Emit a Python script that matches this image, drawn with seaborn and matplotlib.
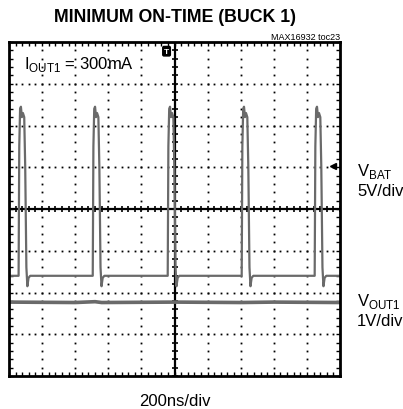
import numpy as np
import pandas as pd
import seaborn as sns
import matplotlib.pyplot as plt
from matplotlib import font_manager

# scope screen: 10 horizontal divisions x 200ns, 8 vertical divisions
time_per_div_ns = 200
n_xdiv = 10
n_ydiv = 8

# VBAT trace (vertical position in divisions from screen bottom)
pulse_starts_ns = [58, 506, 959, 1406, 1847]
pulse_shape_t_ns = [0, 4, 9, 14, 20, 26, 34, 40, 47, 53, 60, 70]
pulse_shape_div = [2.4, 5.5, 6.4, 6.45, 6.2, 6.3, 6.2, 5.0, 2.6, 2.15, 2.35, 2.4]
vbat_base_div = 2.4

# VOUT1 trace
vout_t_ns = [0, 400, 520, 560, 1000, 1400, 1600, 2000]
vout_div = [1.77, 1.76, 1.78, 1.76, 1.77, 1.76, 1.77, 1.76]

# trigger level marker on the right edge
trig_level_div = 5.03

title = "MINIMUM ON-TIME (BUCK 1)"
tag = "MAX16932 toc23"
xlabel = "200ns/div"

# build the VBAT series from the pulse template
t_pts, v_pts = [0], [vbat_base_div]
for t0 in pulse_starts_ns:
    for dt, v in zip(pulse_shape_t_ns, pulse_shape_div):
        t_pts.append(t0 + dt)
        v_pts.append(v)
t_pts.append(n_xdiv * time_per_div_ns)
v_pts.append(vbat_base_div)
vbat = pd.DataFrame({"t": t_pts, "v": v_pts})
vout = pd.DataFrame({"t": vout_t_ns, "v": vout_div})

sns.set_style("white")
names = {f.name for f in font_manager.fontManager.ttflist}
narrow = "Liberation Sans Narrow" if "Liberation Sans Narrow" in names else None
plt.rcParams["font.family"] = ["Liberation Sans", "DejaVu Sans"]
plt.rcParams["text.color"] = "black"
head_font = [narrow, "Liberation Sans"] if narrow else ["Liberation Sans"]

fig = plt.figure(figsize=(4.03, 4.10), dpi=100)
ax = fig.add_axes([9 / 403, 33 / 410, 331 / 403, 334 / 410])

xmax = n_xdiv * time_per_div_ns
ax.set_xlim(0, xmax)
ax.set_ylim(0, n_ydiv)

# dotted graticule
dot_kw = dict(ls="none", marker="s", ms=1.3, color="black", mew=0)
ys = np.arange(0, n_ydiv + 0.01, 0.2)
xs = np.arange(0, xmax + 1, time_per_div_ns / 5)
for k in range(1, n_xdiv):
    if k != n_xdiv // 2:
        ax.plot(np.full_like(ys, k * time_per_div_ns), ys, **dot_kw)
for k in range(1, n_ydiv):
    if k != n_ydiv // 2:
        ax.plot(xs, np.full_like(xs, k), **dot_kw)

# center cross with ticks
ax.axhline(n_ydiv / 2, color="black", lw=1.6)
ax.axvline(xmax / 2, color="black", lw=1.6)
ax.plot(xs, np.full_like(xs, n_ydiv / 2), ls="none", marker="|", ms=5, mew=1.2, color="black")
ax.plot(np.full_like(ys, xmax / 2), ys, ls="none", marker="_", ms=5, mew=1.2, color="black")

# traces
trace_col = "#6a6a6a"
sns.lineplot(data=vbat, x="t", y="v", ax=ax, color=trace_col, lw=1.6,
             estimator=None, sort=False)
sns.lineplot(data=vout, x="t", y="v", ax=ax, color=trace_col, lw=2.6,
             estimator=None, sort=False)

# frame with inward ticks
for s in ax.spines.values():
    s.set_visible(True)
    s.set_linewidth(2)
    s.set_color("black")
ax.set_xticks(xs)
ax.set_yticks(ys)
ax.tick_params(direction="in", length=3, width=1, colors="black",
               top=True, right=True, bottom=True, left=True,
               labelbottom=False, labelleft=False)
ax.set_xlabel("")
ax.set_ylabel("")

# trigger markers
ax.text(xmax / 2 - 48, n_ydiv - 0.22, "T", ha="center", va="center", fontsize=6,
        fontweight="bold", color="white",
        bbox=dict(boxstyle="round,pad=0.15", fc="black", ec="black"))
ax.plot([xmax - 40], [trig_level_div], marker="<", ms=5, color="black", ls="none")

# text
fig.text(175 / 403, 1 - 18 / 410, title, ha="center", va="center",
         fontsize=14 if narrow else 12.8, fontweight="bold", family=head_font)
fig.text(340 / 403, 1 - 37 / 410, tag, ha="right", va="center", fontsize=6.5)
ax.text(0.045, 0.935, r"I$_{\mathregular{OUT1}}$ = 300mA", transform=ax.transAxes,
        ha="left", va="center", fontsize=12, family=head_font)
fig.text(357 / 403, 1 - 172 / 410, r"V$_{\mathregular{BAT}}$", ha="left", va="center", fontsize=12, family=head_font)
fig.text(357 / 403, 1 - 192 / 410, "5V/div", ha="left", va="center", fontsize=12, family=head_font)
fig.text(357 / 403, 1 - 302 / 410, r"V$_{\mathregular{OUT1}}$", ha="left", va="center", fontsize=12, family=head_font)
fig.text(357 / 403, 1 - 322 / 410, "1V/div", ha="left", va="center", fontsize=12, family=head_font)
fig.text(175 / 403, 1 - 402 / 410, xlabel, ha="center", va="center", fontsize=12, family=head_font)

fig.savefig("out.png", dpi=100)
